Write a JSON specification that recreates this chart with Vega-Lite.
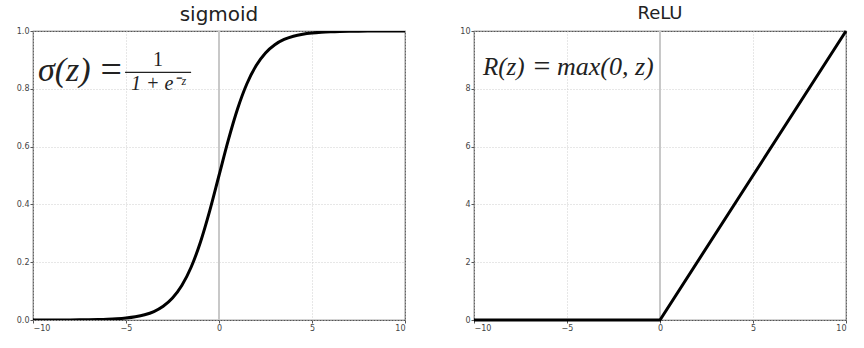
{
  "$schema": "https://vega.github.io/schema/vega-lite/v6.json",
  "padding": {"left": 15, "top": 4, "right": 8, "bottom": 5},
  "bounds": "flush",
  "spacing": 69,
  "datasets": {
    "sig": [
      {"z": -10, "s": 0.0000454}, {"z": -9.5, "s": 0.0000749}, {"z": -9, "s": 0.000123}, {"z": -8.5, "s": 0.000203},
      {"z": -8, "s": 0.000335}, {"z": -7.5, "s": 0.000553}, {"z": -7, "s": 0.000911}, {"z": -6.5, "s": 0.001501},
      {"z": -6, "s": 0.002473}, {"z": -5.5, "s": 0.00407}, {"z": -5, "s": 0.006693}, {"z": -4.5, "s": 0.010987},
      {"z": -4, "s": 0.017986}, {"z": -3.5, "s": 0.029312}, {"z": -3, "s": 0.047426}, {"z": -2.5, "s": 0.075858},
      {"z": -2, "s": 0.119203}, {"z": -1.5, "s": 0.182426}, {"z": -1, "s": 0.268941}, {"z": -0.5, "s": 0.377541},
      {"z": 0, "s": 0.5}, {"z": 0.5, "s": 0.622459}, {"z": 1, "s": 0.731059}, {"z": 1.5, "s": 0.817574},
      {"z": 2, "s": 0.880797}, {"z": 2.5, "s": 0.924142}, {"z": 3, "s": 0.952574}, {"z": 3.5, "s": 0.970688},
      {"z": 4, "s": 0.982014}, {"z": 4.5, "s": 0.989013}, {"z": 5, "s": 0.993307}, {"z": 5.5, "s": 0.99593},
      {"z": 6, "s": 0.997527}, {"z": 6.5, "s": 0.998499}, {"z": 7, "s": 0.999089}, {"z": 7.5, "s": 0.999447},
      {"z": 8, "s": 0.999665}, {"z": 8.5, "s": 0.999797}, {"z": 9, "s": 0.999877}, {"z": 9.5, "s": 0.999925},
      {"z": 10, "s": 0.9999546}
    ],
    "relu": [
      {"z": -10, "r": 0}, {"z": -5, "r": 0}, {"z": 0, "r": 0}, {"z": 5, "r": 5}, {"z": 10, "r": 10}
    ],
    "one": [{}]
  },
  "hconcat": [
    {
      "width": 372,
      "height": 289,
      "title": {"text": "sigmoid", "fontSize": 20},
      "layer": [
        {
          "data": {"name": "one"},
          "mark": {"type": "rule", "color": "#c8c8c8", "strokeWidth": 2},
          "encoding": {"x": {"datum": 0, "type": "quantitative"}}
        },
        {
          "data": {"name": "sig"},
          "mark": {"type": "line", "color": "black", "strokeWidth": 3, "interpolate": "monotone", "clip": true},
          "encoding": {
            "x": {"field": "z", "type": "quantitative", "title": null,
                  "scale": {"domain": [-10, 10], "nice": false, "zero": false},
                  "axis": {"values": [-10, -5, 0, 5, 10]}},
            "y": {"field": "s", "type": "quantitative", "title": null,
                  "scale": {"domain": [0, 1], "nice": false},
                  "axis": {"values": [0, 0.2, 0.4, 0.6, 0.8, 1], "format": ".1f"}}
          }
        },
        {
          "data": {"name": "one"},
          "mark": {"type": "text", "text": "σ(z)", "font": "Liberation Serif", "fontStyle": "italic", "fontSize": 34, "align": "left", "baseline": "middle", "color": "#222"},
          "encoding": {"x": {"datum": -9.73, "type": "quantitative"}, "y": {"datum": 0.862, "type": "quantitative"}}
        },
        {
          "data": {"name": "one"},
          "mark": {"type": "text", "text": "=", "font": "Liberation Serif", "fontSize": 38, "align": "center", "baseline": "middle", "color": "#222"},
          "encoding": {"x": {"datum": -5.8, "type": "quantitative"}, "y": {"datum": 0.862, "type": "quantitative"}}
        },
        {
          "data": {"name": "one"},
          "mark": {"type": "text", "text": "1", "font": "Liberation Serif", "fontSize": 20, "align": "center", "baseline": "middle", "color": "#222"},
          "encoding": {"x": {"datum": -3.28, "type": "quantitative"}, "y": {"datum": 0.9, "type": "quantitative"}}
        },
        {
          "data": {"name": "one"},
          "mark": {"type": "text", "text": "1 + e⁻ᶻ", "font": "Liberation Serif", "fontStyle": "italic", "fontSize": 20, "align": "center", "baseline": "middle", "color": "#222"},
          "encoding": {"x": {"datum": -3.28, "type": "quantitative"}, "y": {"datum": 0.818, "type": "quantitative"}}
        },
        {
          "data": {"name": "one"},
          "mark": {"type": "rule", "color": "#222", "strokeWidth": 1.2},
          "encoding": {"x": {"datum": -5.05, "type": "quantitative"}, "x2": {"datum": -1.5}, "y": {"datum": 0.857, "type": "quantitative"}}
        }
      ]
    },
    {
      "width": 372,
      "height": 289,
      "title": {"text": "ReLU", "fontSize": 18},
      "layer": [
        {
          "data": {"name": "one"},
          "mark": {"type": "rule", "color": "#c8c8c8", "strokeWidth": 2},
          "encoding": {"x": {"datum": 0, "type": "quantitative"}}
        },
        {
          "data": {"name": "relu"},
          "mark": {"type": "line", "color": "black", "strokeWidth": 3},
          "encoding": {
            "x": {"field": "z", "type": "quantitative", "title": null,
                  "scale": {"domain": [-10, 10], "nice": false, "zero": false},
                  "axis": {"values": [-10, -5, 0, 5, 10]}},
            "y": {"field": "r", "type": "quantitative", "title": null,
                  "scale": {"domain": [0, 10], "nice": false},
                  "axis": {"values": [0, 2, 4, 6, 8, 10]}}
          }
        },
        {
          "data": {"name": "one"},
          "mark": {"type": "text", "text": "R(z)", "font": "Liberation Serif", "fontStyle": "italic", "fontSize": 25, "align": "left", "baseline": "middle", "color": "#222"},
          "encoding": {"x": {"datum": -9.52, "type": "quantitative"}, "y": {"datum": 8.75, "type": "quantitative"}}
        },
        {
          "data": {"name": "one"},
          "mark": {"type": "text", "text": "=", "font": "Liberation Serif", "fontSize": 30, "align": "center", "baseline": "middle", "color": "#222"},
          "encoding": {"x": {"datum": -6.34, "type": "quantitative"}, "y": {"datum": 8.75, "type": "quantitative"}}
        },
        {
          "data": {"name": "one"},
          "mark": {"type": "text", "text": "max(0,", "font": "Liberation Serif", "fontStyle": "italic", "fontSize": 26, "align": "left", "baseline": "middle", "color": "#222"},
          "encoding": {"x": {"datum": -5.54, "type": "quantitative"}, "y": {"datum": 8.75, "type": "quantitative"}}
        },
        {
          "data": {"name": "one"},
          "mark": {"type": "text", "text": "z)", "font": "Liberation Serif", "fontStyle": "italic", "fontSize": 26, "align": "left", "baseline": "middle", "color": "#222"},
          "encoding": {"x": {"datum": -1.35, "type": "quantitative"}, "y": {"datum": 8.75, "type": "quantitative"}}
        }
      ]
    }
  ],
  "config": {
    "view": {"stroke": "#555", "strokeWidth": 1.2},
    "axis": {
      "labelFont": "DejaVu Sans", "labelFontSize": 8, "labelColor": "#444",
      "grid": true, "gridColor": "#cfcfcf", "gridDash": [1, 2],
      "domain": false, "ticks": true, "tickSize": 3, "tickColor": "#555", "labelPadding": 1
    },
    "title": {"font": "DejaVu Sans", "fontSize": 17, "fontWeight": "normal", "color": "#222", "offset": 2}
  }
}
